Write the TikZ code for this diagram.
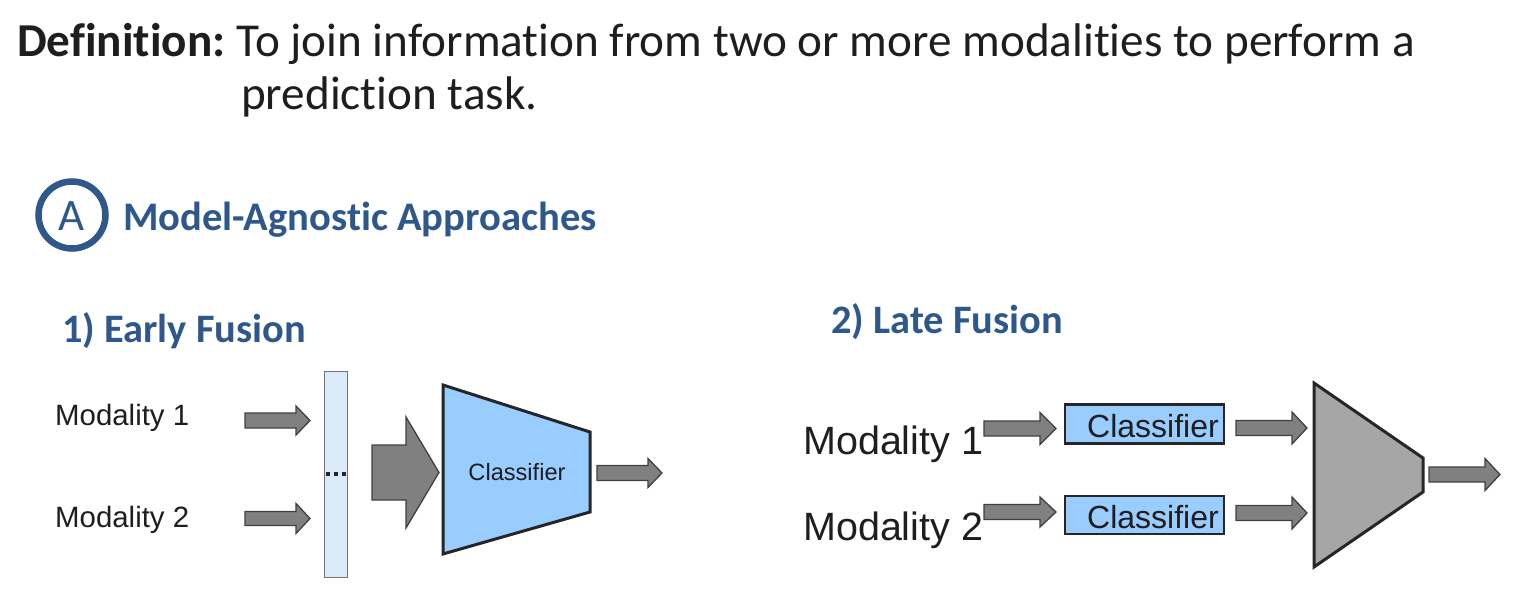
\documentclass[tikz,border=0pt]{standalone}
\usepackage{fontspec}
\setmainfont{Carlito}[Ligatures={NoCommon}]
\newfontfamily\arialf{Liberation Sans}
\usetikzlibrary{shadows}
\definecolor{headblue}{RGB}{46,88,140}
\definecolor{txtdark}{RGB}{30,30,30}
\definecolor{clsblue}{RGB}{153,204,255}
\definecolor{barblue}{RGB}{218,234,248}
\definecolor{arrgray}{RGB}{128,128,128}
\definecolor{fusegray}{RGB}{166,166,166}
\tikzset{
  blkarr/.style={fill=arrgray, draw=black!75, line width=1.3pt, line join=miter},
  heading/.style={anchor=base west, inner sep=0pt, text=headblue, font=\bfseries},
  modtext/.style={anchor=base west, inner sep=0pt, text=txtdark},
  clsbox/.style={fill=clsblue, draw=black!85, line width=2.8pt, line join=miter},
  bardot/.style={fill=black!85, draw=none},
}
\newcommand{\blkarrow}[6]{%
  \draw[blkarr] (#1,#4-#5) -- (#2,#4-#5) -- (#2,#4-#6) -- (#3,#4) -- (#2,#4+#6) -- (#2,#4+#5) -- (#1,#4+#5) -- cycle;}
\begin{document}
\begin{tikzpicture}[x=1pt,y=-1pt]
\useasboundingbox (0,0) rectangle (1519,599);
% definition
\node[anchor=base west, inner sep=0pt, text=txtdark, font=\fontsize{47.2}{52}\selectfont\bfseries] (defl) at (17,57) {Definition:};
\node[anchor=base west, inner sep=0pt, text=txtdark, font=\fontsize{47.2}{52}\selectfont] (def1) at (236,57) {To join information from two or more modalities to perform a};
\node[anchor=base west, inner sep=0pt, text=txtdark, font=\fontsize{47.2}{52}\selectfont] (def2) at (241,110) {prediction task.};
% circle A
\node[circle, draw=headblue, line width=6.5pt, fill=white, minimum size=67pt, inner sep=0pt,
      drop shadow={opacity=0.3, shadow xshift=1pt, shadow yshift=-3pt}] (circA) at (72,215) {};
\node[anchor=base, inner sep=0pt, text=headblue, font=\fontsize{45}{45}\selectfont] (letA) at (72,230) {A};
\node[heading, font=\fontsize{40.6}{44}\selectfont\bfseries] (titA) at (123,230) {Model-Agnostic Approaches};
\node[heading, font=\fontsize{40.4}{44}\selectfont\bfseries] (early) at (62,342) {1) Early Fusion};
\node[heading, font=\fontsize{40.4}{44}\selectfont\bfseries] (late) at (831,333) {2) Late Fusion};
% early fusion
\node[modtext, font=\arialf\fontsize{29.4}{32}\selectfont] (em1) at (55,425) {Modality 1};
\node[modtext, font=\arialf\fontsize{29.4}{32}\selectfont] (em2) at (55,527) {Modality 2};
\blkarrow{245}{296}{310}{420.5}{7.5}{14.5}
\blkarrow{245}{296}{310}{518.5}{7}{15}
\draw[fill=barblue, draw=black!55, line width=1pt] (324,371) rectangle (347,577);
\fill[bardot] (325.5,472) rectangle (329.5,476);
\fill[bardot] (333.5,472) rectangle (337.5,476);
\fill[bardot] (341.5,472) rectangle (345.5,476);
\blkarrow{372}{406}{439}{472.5}{27.5}{55.5}
\draw[fill=clsblue, draw=black!85, line width=3pt, line join=miter] (443,385) -- (590,432) -- (590,512) -- (443,554) -- cycle;
\node[anchor=base, inner sep=0pt, text=txtdark, font=\arialf\fontsize{23.6}{26}\selectfont] (ecls) at (517,480) {Classifier};
\blkarrow{597}{648}{662}{473}{7.5}{14.5}
% late fusion
\node[modtext, font=\arialf\fontsize{39.5}{42}\selectfont] (lm1) at (803,454) {Modality 1};
\node[modtext, font=\arialf\fontsize{39.5}{42}\selectfont] (lm2) at (803,540) {Modality 2};
\blkarrow{984}{1040}{1056}{428.5}{7.5}{16}
\blkarrow{984}{1040}{1056}{512}{7.5}{15}
\draw[clsbox] (1065,404.5) rectangle (1224,443.5);
\draw[clsbox] (1065,496) rectangle (1224,534);
\node[anchor=base, inner sep=0pt, text=txtdark, font=\arialf\fontsize{32}{34}\selectfont] (lc1) at (1153,437) {Classifier};
\node[anchor=base, inner sep=0pt, text=txtdark, font=\arialf\fontsize{32}{34}\selectfont] (lc2) at (1153,528) {Classifier};
\blkarrow{1236}{1292}{1307}{428}{7.5}{16}
\blkarrow{1236}{1292}{1307}{513}{7.5}{16}
\draw[fill=fusegray, draw=black!85, line width=3pt, line join=miter] (1314,383) -- (1423,458) -- (1423,492) -- (1314,567) -- cycle;
\blkarrow{1429}{1485}{1500}{474.5}{7.5}{16}
\end{tikzpicture}
\end{document}
